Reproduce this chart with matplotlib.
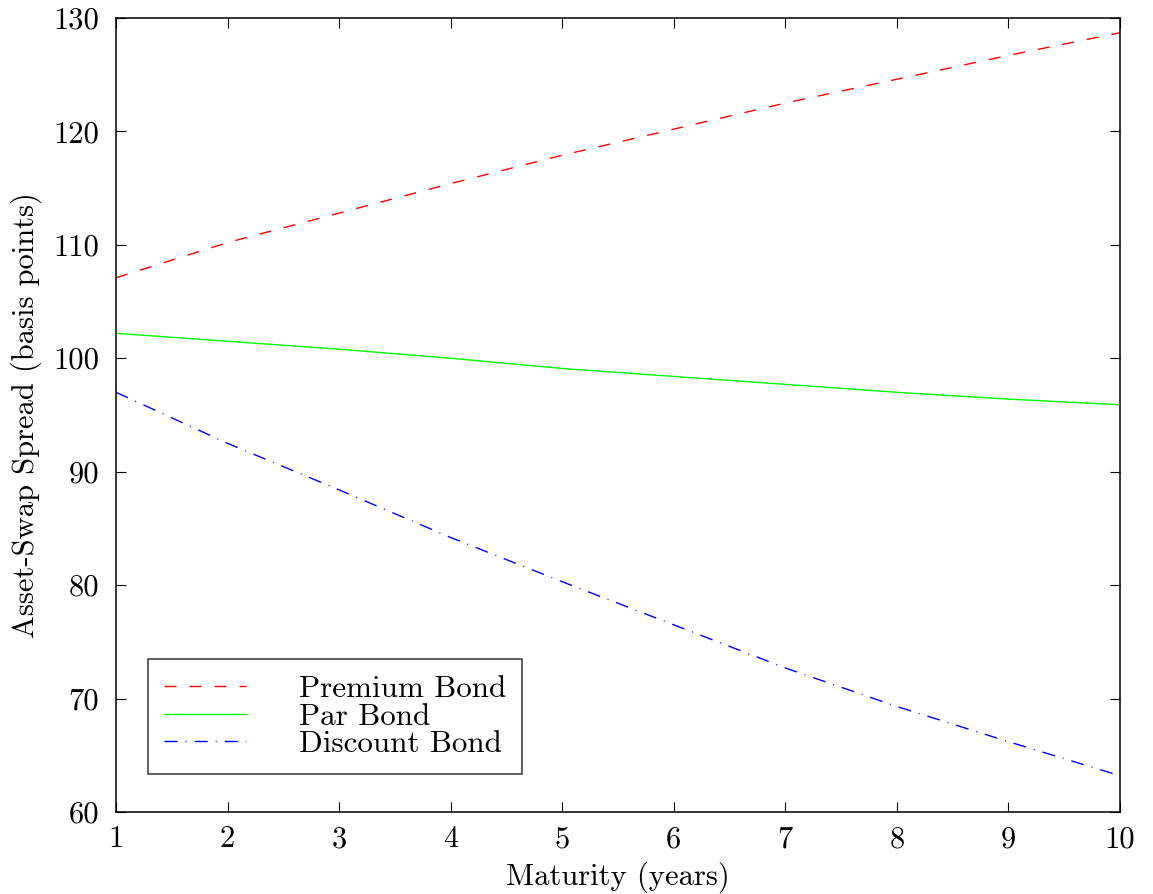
import matplotlib
matplotlib.use('Agg')
import matplotlib.pyplot as plt

plt.rcParams['font.family'] = ['cmr10', 'DejaVu Serif']
plt.rcParams['mathtext.fontset'] = 'cm'
plt.rcParams['axes.formatter.use_mathtext'] = True

# values (basis points)
maturity = [1, 2, 3, 4, 5, 6, 7, 8, 9, 10]
premium = [107.1, 110.2, 112.8, 115.4, 117.9, 120.2, 122.5, 124.6, 126.7, 128.7]
par = [102.2, 101.5, 100.8, 100.0, 99.1, 98.4, 97.7, 97.0, 96.4, 95.9]
discount = [97.0, 92.5, 88.4, 84.2, 80.3, 76.5, 72.7, 69.3, 66.2, 63.2]

xticks = [1, 2, 3, 4, 5, 6, 7, 8, 9, 10]
yticks = [60, 70, 80, 90, 100, 110, 120, 130]

fig = plt.figure(figsize=(11.53, 8.94), dpi=100)
ax = fig.add_axes([0.1006, 0.0917, 0.8708, 0.8882])

ax.plot(maturity, premium, color='#ff0000', lw=1.0, dashes=(8.6, 9.4), label='Premium Bond')
ax.plot(maturity, par, color='#00ff00', lw=1.0, label='Par Bond')
ax.plot(maturity, discount, color='#0000ff', lw=1.0, dashes=(9.4, 5.8, 0.7, 5.8), label='Discount Bond')

ax.set_xlim(1, 10); ax.set_ylim(60, 130)
ax.set_xticks(xticks); ax.set_yticks(yticks)
ax.set_xticklabels([str(t) for t in xticks]); ax.set_yticklabels([str(t) for t in yticks])
ax.tick_params(direction='in', length=7, width=0.8, top=True, right=True, labelsize=22, pad=10)
ax.tick_params(axis='y', pad=12)
for s in ax.spines.values(): s.set_linewidth(1.1)

ax.set_xlabel('Maturity (years)', fontsize=22, labelpad=6)
ax.set_ylabel('Asset-Swap Spread (basis points)', fontsize=22, labelpad=8)

leg = ax.legend(loc='lower left', bbox_to_anchor=(0.032, 0.048), fontsize=22.4, frameon=True, fancybox=False,
                handlelength=2.65, handletextpad=1.7, labelspacing=0.0, borderpad=0.5, borderaxespad=0)
leg.get_frame().set_edgecolor('black'); leg.get_frame().set_linewidth(1.1)

plt.savefig('out.png', dpi=100)
plt.close()
